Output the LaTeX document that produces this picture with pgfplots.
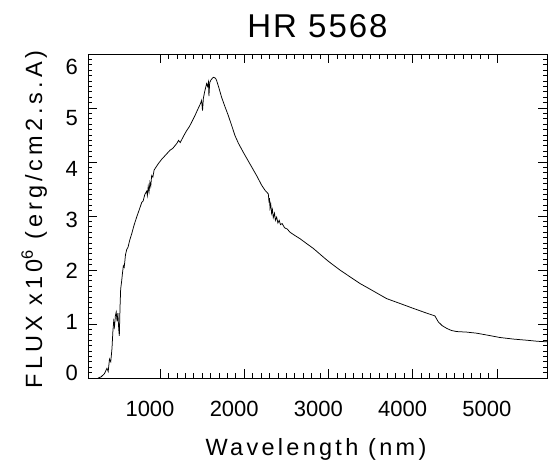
\documentclass[border=0pt]{standalone}
\usepackage{pgfplots}
\pgfplotsset{compat=1.18}
\usepackage{fontspec}
\setmainfont{Liberation Sans}
\newfontfamily\labfont{Liberation Sans}[LetterSpace=14]
\newfontfamily\ylabfont{Liberation Sans}[LetterSpace=17]
\newfontfamily\titfont{Liberation Sans}[LetterSpace=6]
\newcommand{\yl}[2]{\raisebox{#1}[15.8pt][0pt]{#2}}
\begin{document}
\begin{tikzpicture}
\path[use as bounding box] (-88pt,-88pt) rectangle (462pt,378pt);
\begin{axis}[
  at={(0pt,0pt)}, anchor=south west,
  scale only axis, width=459pt, height=324pt,
  xmin=145, xmax=5595, ymin=0, ymax=6,
  xtick={1000,2000,3000,4000,5000}, ytick={0,1,2,3,4,5,6},
  yticklabels={\yl{5pt}{0},\yl{2.1pt}{1},\yl{-0.8pt}{2},\yl{-3.7pt}{3},\yl{-6.6pt}{4},\yl{-9.5pt}{5},\yl{-12.4pt}{6}},
  minor x tick num=9, minor y tick num=9,
  tick pos=both, tick align=inside,
  major tick length=9pt, minor tick length=4.5pt,
  axis line style={line width=0.9pt},
  every tick/.style={black, line width=0.7pt},
  scaled x ticks=false, scaled y ticks=false,
  /pgf/number format/assume math mode=true,
  /pgf/number format/1000 sep={},
  tick label style={font=\fontsize{22}{22}\selectfont},
  xticklabel style={anchor=base, yshift=-39pt, xshift=-10pt, inner sep=0pt},
  yticklabel style={anchor=east, xshift=-10pt, inner sep=0pt},
  title={HR 5568},
  every axis title/.style={at={(axis description cs:0.5,1)}, anchor=base, yshift=17pt, font=\fontsize{33}{33}\selectfont\titfont},
  xlabel={Wavelength (nm)},
  every axis x label/.style={at={(axis description cs:0.4967,-0.2377)}, anchor=base, font=\fontsize{23.5}{23.5}\selectfont\labfont},
  ylabel={FLUX x10\textsuperscript{6} (erg/cm2.s.A)},
  every axis y label/.style={at={(axis description cs:-0.1002,0.49)}, anchor=base, rotate=90, font=\fontsize{23.5}{23.5}\selectfont\ylabfont},
]
\addplot[black, line width=0.75pt, no marks, sharp plot] table {
x y
264 0
300 0.02
340 0.08
370 0.18
385 0.12
400 0.35
415 0.30
430 0.55
440 0.85
450 1.05
460 0.95
470 1.15
480 1.22
490 1.05
500 1.20
510 0.90
517 0.78
525 1.30
533 1.65
545 1.80
555 1.95
565 2.08
575 2.05
590 2.28
605 2.38
620 2.42
640 2.55
664 2.67
690 2.82
723 2.98
750 3.10
783 3.25
800 3.28
820 3.40
842 3.46
850 3.38
860 3.55
870 3.45
880 3.62
890 3.55
901 3.75
915 3.72
930 3.85
950 3.90
980 3.97
1020 4.05
1079 4.15
1120 4.22
1150 4.25
1198 4.34
1220 4.40
1240 4.36
1280 4.48
1316 4.58
1350 4.66
1380 4.75
1415 4.86
1450 4.98
1480 5.08
1494 5.14
1505 4.95
1515 5.18
1530 5.30
1553 5.45
1565 5.40
1575 5.48
1581 5.22
1590 5.47
1605 5.52
1633 5.57
1660 5.55
1672 5.51
1700 5.37
1731 5.20
1770 5.03
1811 4.86
1850 4.68
1890 4.49
1930 4.35
1989 4.18
2040 4.04
2088 3.91
2150 3.74
2207 3.57
2250 3.47
2286 3.41
2295 3.25
2300 3.33
2306 3.15
2315 3.22
2325 3.05
2335 3.12
2345 2.97
2360 3.05
2370 2.92
2385 2.98
2400 2.87
2415 2.92
2430 2.84
2450 2.86
2480 2.78
2510 2.76
2543 2.70
2600 2.64
2662 2.58
2740 2.49
2820 2.40
2939 2.24
3000 2.16
3136 2.00
3250 1.88
3374 1.75
3500 1.64
3691 1.47
3850 1.38
4006 1.29
4150 1.21
4264 1.15
4304 1.04
4350 0.97
4403 0.92
4460 0.88
4522 0.86
4640 0.85
4759 0.83
4900 0.79
5036 0.75
5200 0.72
5352 0.70
5480 0.68
5595 0.67
};
\end{axis}
\end{tikzpicture}
\end{document}
